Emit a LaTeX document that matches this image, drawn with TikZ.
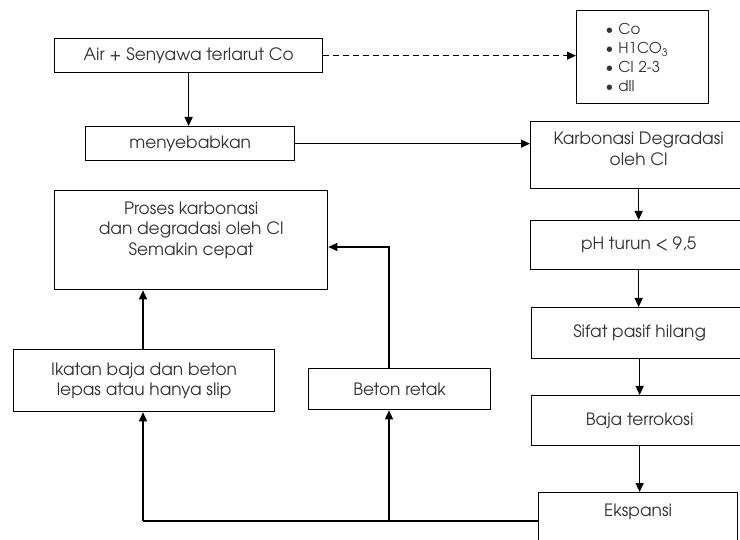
\documentclass[tikz,border=0pt]{standalone}
\usepackage{fontspec}
\setmainfont{TeX Gyre Adventor}
\usetikzlibrary{arrows.meta}
\begin{document}
\begin{tikzpicture}[x=1pt,y=-1pt,
  box/.style={draw, line width=1.3pt, inner sep=0pt, align=center, anchor=north west, font=\fontsize{17}{20.3}\selectfont, text=black!80},
  arr/.style={line width=1.3pt, -{Triangle[length=9pt,width=8pt]}},
  darr/.style={arr, dash pattern=on 6pt off 4pt}]
\useasboundingbox (0,0) rectangle (740,540);
\clip (0,0) rectangle (740,540);
\node[box, minimum width=132, minimum height=93, inner xsep=29pt, text width=74pt, align=left, font=\fontsize{15}{19}\selectfont] (list) at (576,10)
  {\textbullet\ Co\\ \textbullet\ H1CO\textsubscript{3}\\ \textbullet\ Cl 2-3\\ \textbullet\ dll};
\node[box, minimum width=268, minimum height=34] (air) at (54,38) {Air + Senyawa terlarut Co};
\node[box, minimum width=209, minimum height=34] (meny) at (85,126) {menyebabkan};
\node[box, minimum width=216, minimum height=67, text height=32pt, text depth=12pt] (karb) at (530,121) {Karbonasi Degradasi\\oleh Cl};
\node[box, minimum width=216, minimum height=49] (ph) at (530,220) {pH turun < 9,5};
\node[box, minimum width=216, minimum height=51] (sifat) at (531,307) {Sifat pasif hilang};
\node[box, minimum width=216, minimum height=50] (baja) at (531,395) {Baja terrokosi};
\node[box, minimum width=199, minimum height=76, text height=12pt, text depth=41pt] (eks) at (538,492) {Ekspansi};
\node[box, minimum width=273, minimum height=99, text height=53pt, text depth=23pt] (proses) at (54,190) {Proses karbonasi\\dan degradasi oleh Cl\\Semakin cepat};
\node[box, minimum width=261, minimum height=62] (ikatan) at (13,349) {Ikatan baja dan beton\\lepas atau hanya slip};
\node[box, minimum width=182, minimum height=41] (beton) at (308,368) {Beton retak};
\coordinate (bl) at (143,521);
\coordinate (bm) at (389,521);
\coordinate (bt) at (389,247);
\draw[arr] (air.south) -- (air.south |- meny.north);
\draw[darr] (air.east) -- (air.east -| list.west);
\draw[arr] (meny.east) -- (meny.east -| karb.west);
\draw[arr] (karb.south) -- (karb.south |- ph.north);
\draw[arr] (ph.south) -- (ph.south |- sifat.north);
\draw[arr] (sifat.south) -- (sifat.south |- baja.north);
\draw[arr] (baja.south) -- (baja.south |- eks.north);
\draw[line width=1.3pt] (eks.west |- bl) -- (bl);
\draw[arr] (bl) -- (bl |- ikatan.south);
\draw[arr] (bm) -- (bm |- beton.south);
\draw[arr] (ikatan.north -| bl) -- (bl |- proses.south);
\draw[arr] (bm |- beton.north) -- (bt) -- (bt -| proses.east);
\end{tikzpicture}
\end{document}
